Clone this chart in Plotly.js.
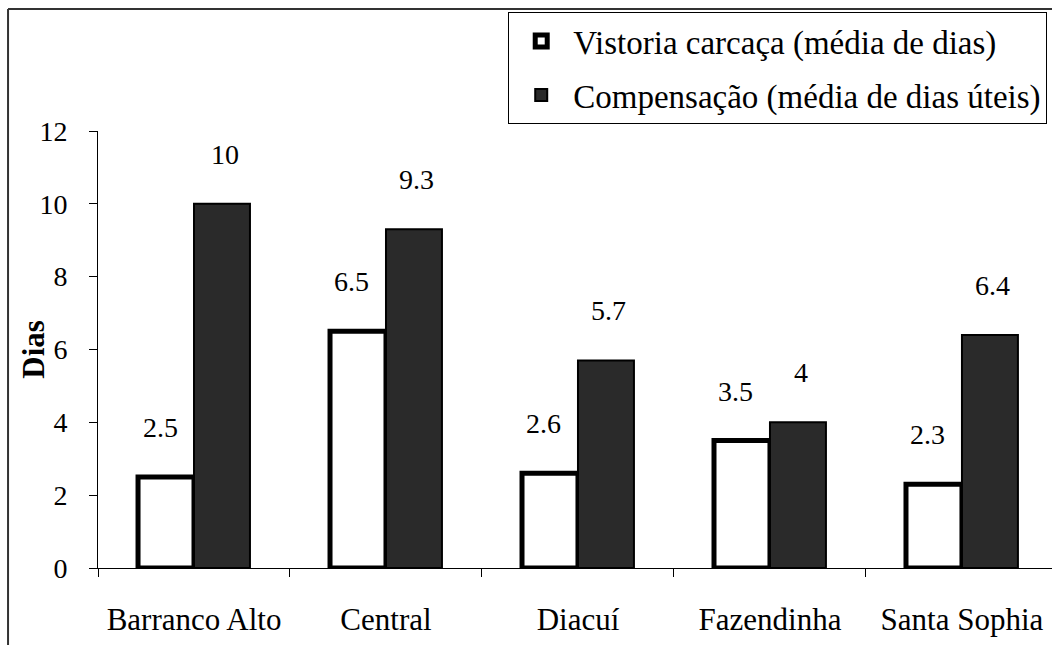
<!DOCTYPE html>
<html>
<head>
<meta charset="utf-8">
<script src="https://cdn.plot.ly/plotly-3.0.1.min.js"></script>
<style>
html,body{margin:0;padding:0;background:#fff;}
#chart{width:1052px;height:645px;}
</style>
</head>
<body>
<div id="chart"></div>
<script>
const categories = ["Barranco Alto", "Central", "Diacuí", "Fazendinha", "Santa Sophia"];
const vistoria = [2.5, 6.5, 2.6, 3.5, 2.3];
const compensacao = [10, 9.3, 5.7, 4, 6.4];
const seriesNames = ["Vistoria carcaça (média de dias)", "Compensação (média de dias úteis)"];
const yTicks = [0, 2, 4, 6, 8, 10, 12];
const yTitle = "Dias";

const FONT = 'Liberation Serif, Times New Roman, serif';

const traces = [
  {
    type: 'bar', x: categories, y: vistoria, name: seriesNames[0],
    legendgroup: 'a',
    marker: {color: '#ffffff', line: {color: '#000000', width: 5}},
    hoverinfo: 'x+y'
  },
  {
    type: 'bar', x: categories, y: compensacao, name: seriesNames[1],
    legendgroup: 'b',
    marker: {color: '#2a2a2a', line: {color: '#000000', width: 2}},
    hoverinfo: 'x+y'
  }
];

const annotations = [];
categories.forEach((c, i) => {
  annotations.push({x: c, y: vistoria[i], text: String(vistoria[i]), showarrow: false,
    xref: 'x', yref: 'y', yanchor: 'bottom', xanchor: 'center', xshift: -34, yshift: 32,
    font: {family: FONT, size: 28, color: '#000'}});
  annotations.push({x: c, y: compensacao[i], text: String(compensacao[i]), showarrow: false,
    xref: 'x', yref: 'y', yanchor: 'bottom', xanchor: 'center', xshift: 31, yshift: 32,
    font: {family: FONT, size: 28, color: '#000'}});
});
// y-axis title
annotations.push({xref: 'paper', yref: 'paper', x: -0.068, y: 0.5, xanchor: 'center', yanchor: 'middle',
  text: '<b>' + yTitle + '</b>', textangle: -90, showarrow: false,
  font: {family: FONT, size: 31, color: '#000'}});

const layout = {
  width: 1052, height: 645,
  margin: {l: 98, r: 0, t: 131, b: 77, pad: 0, autoexpand: false},
  paper_bgcolor: '#ffffff', plot_bgcolor: '#ffffff',
  font: {family: FONT, size: 28, color: '#000'},
  barmode: 'group', bargap: 0.417, bargroupgap: 0,
  showlegend: true,
  legend: {
    x: 0.43, y: 1.272, xanchor: 'left', yanchor: 'top',
    bgcolor: '#ffffff', bordercolor: '#000000', borderwidth: 1,
    font: {family: FONT, size: 33, color: '#000'},
    traceorder: 'grouped', tracegroupgap: 8, itemwidth: 54
  },
  xaxis: {
    type: 'category', range: [-0.5, 4.469], automargin: false,
    showline: true, linecolor: '#000', linewidth: 1,
    ticks: 'outside', tickson: 'boundaries', ticklen: 8, tickcolor: '#000', tickwidth: 1,
    showgrid: false, zeroline: false,
    tickfont: {family: FONT, size: 31, color: '#000'},
    ticklabelstandoff: 24, fixedrange: true
  },
  yaxis: {
    range: [0, 12], tickvals: yTicks, automargin: false,
    showline: true, linecolor: '#000', linewidth: 1,
    ticks: 'outside', ticklen: 8, tickcolor: '#000', tickwidth: 1,
    showgrid: false, zeroline: false,
    tickfont: {family: FONT, size: 28, color: '#000'},
    ticklabelstandoff: 16,
    fixedrange: true
  },
  annotations: annotations,
  shapes: [
    {type: 'line', xref: 'paper', yref: 'paper', x0: -0.0943, x1: 1.05, y0: 1.2792, y1: 1.2792,
     line: {color: '#333', width: 2}},
    {type: 'line', xref: 'paper', yref: 'paper', x0: -0.0943, x1: -0.0943, y0: -0.3, y1: 1.2792,
     line: {color: '#333', width: 2}}
  ]
};

Plotly.newPlot('chart', traces, layout, {displayModeBar: false, staticPlot: true});
</script>
</body>
</html>
